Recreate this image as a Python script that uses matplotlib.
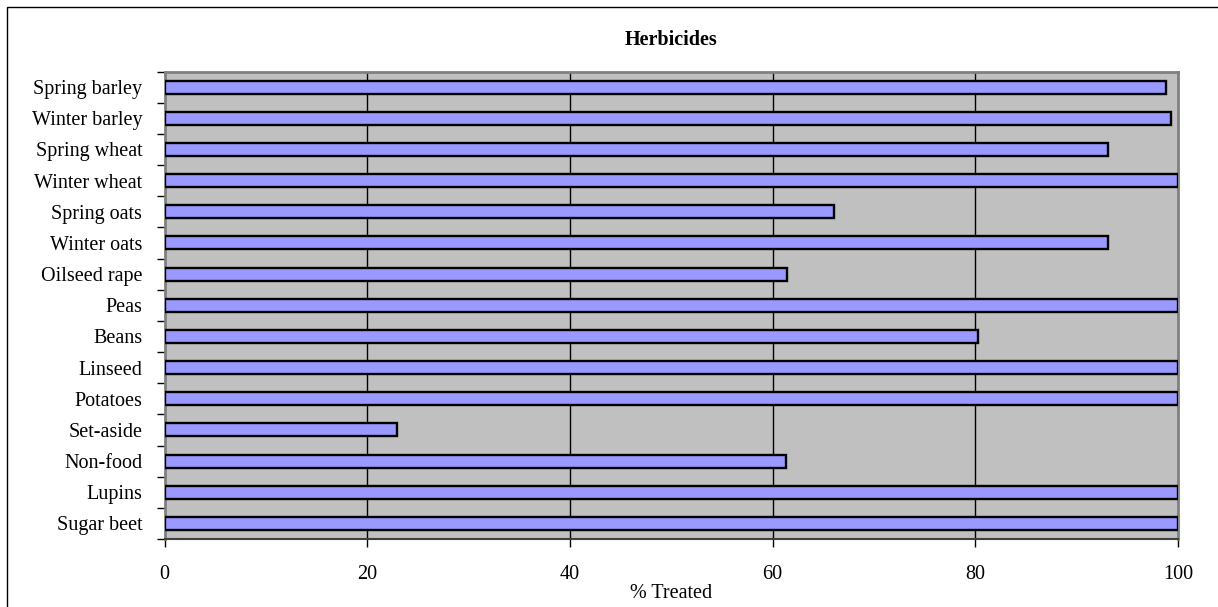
import matplotlib
matplotlib.use("Agg")
import matplotlib.pyplot as plt
from matplotlib.patches import Rectangle
import numpy as np

categories = ["Spring barley", "Winter barley", "Spring wheat", "Winter wheat",
              "Spring oats", "Winter oats", "Oilseed rape", "Peas", "Beans",
              "Linseed", "Potatoes", "Set-aside", "Non-food", "Lupins", "Sugar beet"]
values = [98.8, 99.3, 93.1, 100, 66.1, 93.1, 61.4, 100, 80.3,
          100, 100, 22.9, 61.3, 100, 100]
xticks = [0, 20, 40, 60, 80, 100]
title = "Herbicides"
xlabel = "% Treated"

plt.rcParams['font.family'] = ['Liberation Serif', 'DejaVu Serif']

W, H = 1218, 607
fig = plt.figure(figsize=(W / 100, H / 100), dpi=100)
fig.patch.set_facecolor("white")

# outer chart border (extends past right/bottom like the reference crop)
fig.add_artist(Rectangle((7 / W, -0.05), 1.1, 1 - 7 / H + 0.05,
                         transform=fig.transFigure, fill=False,
                         edgecolor="black", linewidth=1.0))

ax = fig.add_axes([164.5 / W, 1 - 539 / H, (1178 - 164.5) / W, (539 - 71.5) / H])
ax.set_facecolor("#C0C0C0")

n = len(categories)
y = np.arange(n)
ax.barh(y, values, height=0.42, color="#9999FF", edgecolor="black",
        linewidth=1.7, zorder=3)

ax.set_xlim(0, 100)
ax.set_ylim(n - 0.5, -0.5)

ax.set_xticks(xticks)
ax.set_xticklabels([str(t) for t in xticks], fontsize=14.5)
ax.tick_params(axis="x", direction="out", length=6, width=1, color="black", pad=13)

ax.set_yticks(y)
ax.set_yticklabels(categories, fontsize=14.5)
ax.tick_params(axis="y", which="major", length=0, pad=16)
ax.set_yticks(np.arange(n + 1) - 0.5, minor=True)
ax.tick_params(axis="y", which="minor", direction="out", length=6, width=1, color="black")

for v in xticks[1:-1]:
    ax.axvline(v, color="black", linewidth=1.0, zorder=1)

for side in ["top", "right", "left"]:
    ax.spines[side].set_color("#808080")
    ax.spines[side].set_linewidth(2)
ax.spines["bottom"].set_color("#404040")
ax.spines["bottom"].set_linewidth(1.5)

fig.text((164.5 + 1178) / 2 / W, 1 - 40 / H, title, ha="center", va="center",
         fontsize=14.5, fontweight="bold")
fig.text((164.5 + 1178) / 2 / W, 1 - 593 / H, xlabel, ha="center", va="center",
         fontsize=14.5)

fig.savefig("out.png", dpi=100)
